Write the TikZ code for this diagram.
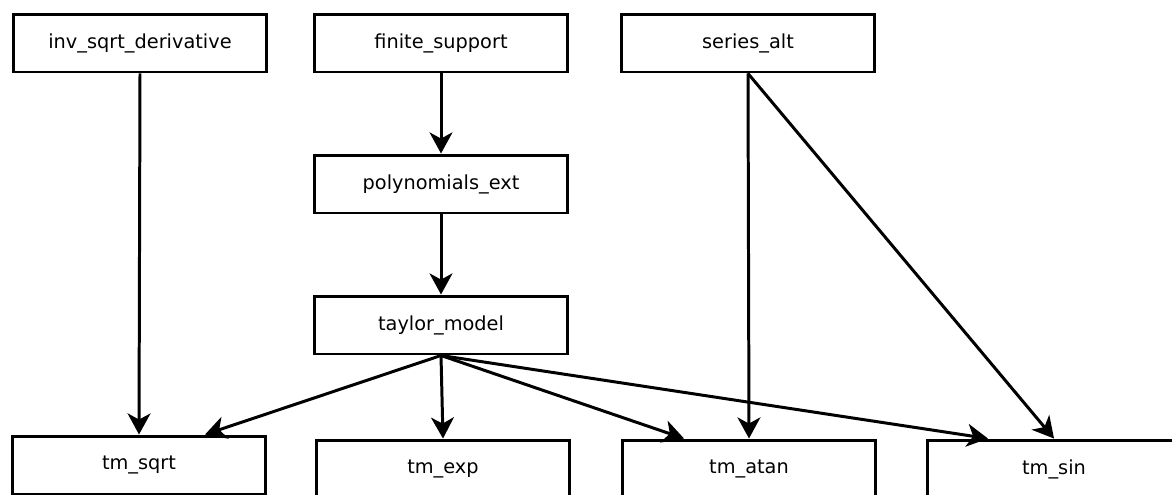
\documentclass[tikz,border=0pt]{standalone}
\usepackage{fontspec}
\setmainfont{DejaVu Sans}
\usetikzlibrary{arrows.meta,calc}
\begin{document}
\begin{tikzpicture}
[
x=0.02cm, y=-0.02cm,
mod/.style={rectangle, draw=black, fill=white, line width=1.7pt, minimum width=5.08cm, minimum height=1.16cm, font=\fontsize{11}{13}\selectfont},
dep/.style={-{Stealth[length=12pt, width=13pt, inset=3.5pt]}, black, line width=1.7pt},
]
\clip (0,0) rectangle (1172,494);

\node at (140,43) [mod] (invsqrt) {inv\_sqrt\_derivative};
\node at (441,43) [mod] (finsupp) {finite\_support};
\node at (748,43) [mod] (seralt) {series\_alt};

\node at (441,184) [mod] (polyext) {polynomials\_ext};
\node at (441,325) [mod] (taylor) {taylor\_model};

\node at (139,465) [mod] (tmsqrt) {tm\_sqrt};
\node at (443,469) [mod] (tmexp) {tm\_exp};
\node at (749,469) [mod] (tmatan) {tm\_atan};
\node at (1054,469) [mod] (tmsin) {tm\_sin};

\draw[dep] (finsupp.south) -- (polyext.north);
\draw[dep] (polyext.south) -- (taylor.north);

\draw[dep] (invsqrt.south) -- (tmsqrt.north);

\draw[dep] (taylor.south) -- ($(tmsqrt.north)+(66,0)$);
\draw[dep] (taylor.south) -- (tmexp.north);
\draw[dep] (taylor.south) -- ($(tmatan.north)+(-65,0)$);
\draw[dep] (taylor.south) -- ($(tmsin.north)+(-66,0)$);

\draw[dep] (seralt.south) -- (tmatan.north);
\draw[dep] (seralt.south) -- (tmsin.north);

\end{tikzpicture}
\end{document}
